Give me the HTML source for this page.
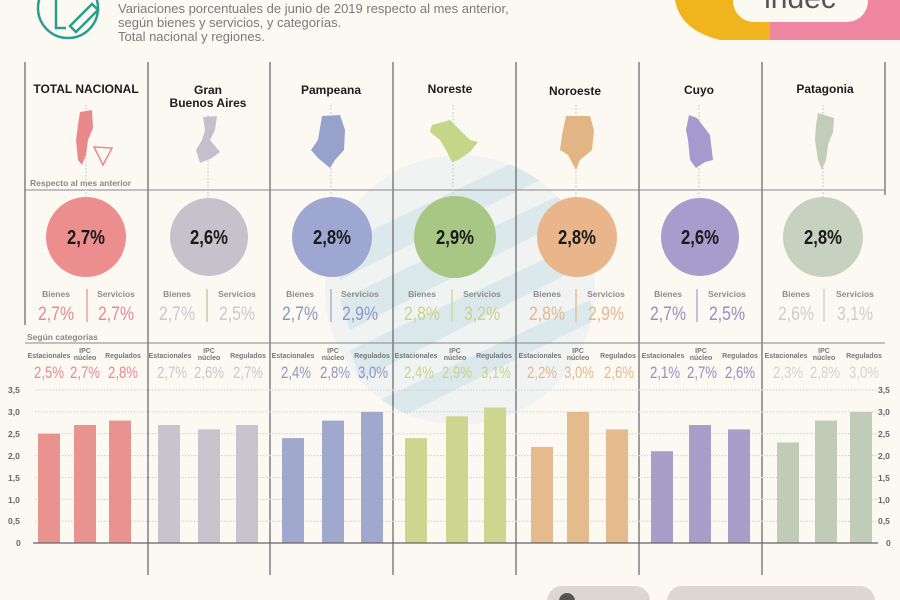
<!DOCTYPE html>
<html><head><meta charset="utf-8"><style>
html,body{margin:0;padding:0;background:#fcf9f3;}
svg{display:block;font-family:"Liberation Sans",sans-serif;}
.t{font-weight:bold;font-size:12px;fill:#1c1c1c;text-anchor:middle}
.bl{font-weight:bold;font-size:8.5px;fill:#8c8c8c;text-anchor:middle}
.cl{font-weight:bold;font-size:7px;fill:#777;text-anchor:middle}
.cv{font-weight:bold;font-size:20px;fill:#1a1a1a;text-anchor:middle}
.pv{font-size:19px;text-anchor:middle}
.kv{font-size:17px;text-anchor:middle}
.ax{font-size:8.5px;fill:#666;font-weight:bold}
</style></head><body>
<svg width="900" height="600" viewBox="0 0 900 600" xmlns="http://www.w3.org/2000/svg">
<rect width="900" height="600" fill="#fcf9f3"/>
<!-- watermark -->
<defs><clipPath id="wc"><circle cx="460" cy="290" r="135"/></clipPath></defs>
<g clip-path="url(#wc)" opacity="0.55">
<circle cx="460" cy="290" r="135" fill="#e6eff0"/>
<g fill="#bfdbe6">
<polygon points="330,250 540,150 560,170 340,280"/>
<polygon points="340,300 560,195 575,215 350,330"/>
<polygon points="350,350 575,245 585,265 360,380"/>
<polygon points="380,400 590,300 595,320 395,420"/>
</g></g>
<!-- header -->
<circle cx="68" cy="8" r="30" fill="none" stroke="#2a9d8f" stroke-width="2.5"/>
<path d="M56,0 L56,28 L66,28" fill="none" stroke="#2a9d8f" stroke-width="2.5"/>
<path d="M70,26 L92,4 L98,10 L76,32 Z" fill="none" stroke="#2a9d8f" stroke-width="2.5"/>
<g font-size="13" fill="#7a7a7a">
<text x="118" y="13">Variaciones porcentuales de junio de 2019 respecto al mes anterior,</text>
<text x="118" y="27">según bienes y servicios, y categorías.</text>
<text x="118" y="41">Total nacional y regiones.</text></g>
<path d="M675,0 L900,0 L900,40 L720,40 Q680,30 675,0 Z" fill="#f0b41e"/>
<path d="M770,0 L900,0 L900,40 L770,40 Z" fill="#ef86a0"/>
<rect x="733" y="-20" width="135" height="42" rx="21" fill="#fcf9f3"/>
<text x="800" y="8" font-size="30" fill="#555" text-anchor="middle">indec</text>
<!-- grid lines -->
<g stroke="#444" stroke-width="1">
<line x1="25" y1="62" x2="25" y2="325"/>
<line x1="148" y1="62" x2="148" y2="575"/><line x1="270" y1="62" x2="270" y2="575"/>
<line x1="393" y1="62" x2="393" y2="575"/><line x1="516" y1="62" x2="516" y2="575"/>
<line x1="639" y1="62" x2="639" y2="575"/><line x1="762" y1="62" x2="762" y2="575"/>
<line x1="885" y1="62" x2="885" y2="195"/>
</g>
<line x1="25" y1="190" x2="885" y2="190" stroke="#888"/>
<line x1="25" y1="343" x2="885" y2="343" stroke="#888"/>
<text x="30" y="186" font-size="8.5" font-weight="bold" fill="#888">Respecto al mes anterior</text>
<text x="27" y="340" font-size="8.5" font-weight="bold" fill="#888">Según categorías</text>
<!-- titles -->
<text class="t" x="86" y="93">TOTAL NACIONAL</text>
<text class="t" x="208" y="94">Gran</text><text class="t" x="208" y="107">Buenos Aires</text>
<text class="t" x="331" y="94">Pampeana</text>
<text class="t" x="450" y="93">Noreste</text>
<text class="t" x="575" y="95">Noroeste</text>
<text class="t" x="699" y="94">Cuyo</text>
<text class="t" x="825" y="93">Patagonia</text>
<!-- dotted connectors -->
<g stroke="#bbb" stroke-dasharray="1.5,2">
<line x1="86" y1="105" x2="86" y2="197"/><line x1="208" y1="115" x2="208" y2="197"/>
<line x1="331" y1="105" x2="331" y2="197"/><line x1="453" y1="105" x2="453" y2="197"/>
<line x1="576" y1="105" x2="576" y2="197"/><line x1="699" y1="105" x2="699" y2="197"/>
<line x1="823" y1="105" x2="823" y2="197"/></g>
<!-- maps -->
<path d="M80,112 L92,110 L93,128 L88,140 L86,155 L82,165 L78,160 L76,140 L78,125 Z" fill="#e8898b"/>
<path d="M94,147 L112,148 L103,165 Z" fill="none" stroke="#e8898b" stroke-width="1.5"/>
<path d="M203,117 L217,116 L215,130 L210,140 L220,152 L212,158 L200,163 L196,150 L202,140 L205,130 Z" fill="#c3bfcb"/>
<path d="M322,116 L340,115 L345,130 L344,150 L335,160 L330,168 L318,158 L311,150 L318,140 L320,128 Z" fill="#97a2cc"/>
<path d="M432,125 L450,120 L462,132 L470,140 L478,142 L470,152 L458,160 L452,162 L446,150 L440,140 L430,132 Z" fill="#c6d688"/>
<path d="M566,116 L590,116 L594,130 L592,150 L580,160 L576,170 L568,155 L560,150 L562,135 Z" fill="#e3b584"/>
<path d="M689,115 L697,118 L710,135 L713,160 L705,162 L696,168 L690,160 L688,140 L686,130 Z" fill="#a699cd"/>
<path d="M818,113 L834,118 L833,132 L828,145 L826,160 L822,170 L818,160 L815,140 L816,125 Z" fill="#c1cdb9"/>
<!-- circles -->
<circle cx="86" cy="237" r="40" fill="#ec8e8e"/>
<circle cx="209" cy="237" r="39" fill="#c7c1cb"/>
<circle cx="332" cy="237" r="40" fill="#9ea7d1"/>
<circle cx="455" cy="237" r="41" fill="#a9c784"/>
<circle cx="577" cy="237" r="40" fill="#e8b68a"/>
<circle cx="700" cy="237" r="39" fill="#a79ccc"/>
<circle cx="823" cy="237" r="40" fill="#c6d2bf"/>
<g class="cv">
<text class="cv" x="86" y="244" textLength="38" lengthAdjust="spacingAndGlyphs">2,7%</text>
<text class="cv" x="209" y="244" textLength="38" lengthAdjust="spacingAndGlyphs">2,6%</text>
<text class="cv" x="332" y="244" textLength="38" lengthAdjust="spacingAndGlyphs">2,8%</text>
<text class="cv" x="455" y="244" textLength="38" lengthAdjust="spacingAndGlyphs">2,9%</text>
<text class="cv" x="577" y="244" textLength="38" lengthAdjust="spacingAndGlyphs">2,8%</text>
<text class="cv" x="700" y="244" textLength="38" lengthAdjust="spacingAndGlyphs">2,6%</text>
<text class="cv" x="823" y="244" textLength="38" lengthAdjust="spacingAndGlyphs">2,8%</text></g>
<!-- bienes/servicios -->
<g class="bl">
<text class="bl" x="56" y="297">Bienes</text><text class="bl" x="116" y="297">Servicios</text>
<text class="bl" x="177" y="297">Bienes</text><text class="bl" x="237" y="297">Servicios</text>
<text class="bl" x="300" y="297">Bienes</text><text class="bl" x="360" y="297">Servicios</text>
<text class="bl" x="422" y="297">Bienes</text><text class="bl" x="482" y="297">Servicios</text>
<text class="bl" x="547" y="297">Bienes</text><text class="bl" x="606" y="297">Servicios</text>
<text class="bl" x="668" y="297">Bienes</text><text class="bl" x="727" y="297">Servicios</text>
<text class="bl" x="796" y="297">Bienes</text><text class="bl" x="855" y="297">Servicios</text></g>
<g stroke-width="1.2">
<line x1="87" y1="289" x2="87" y2="322" stroke="#e8898b"/>
<line x1="207" y1="289" x2="207" y2="322" stroke="#c9b98c"/>
<line x1="331" y1="289" x2="331" y2="322" stroke="#97a2cc"/>
<line x1="452" y1="289" x2="452" y2="322" stroke="#c6d688"/>
<line x1="576" y1="289" x2="576" y2="322" stroke="#e3b584"/>
<line x1="697" y1="289" x2="697" y2="322" stroke="#a699cd"/>
<line x1="824" y1="289" x2="824" y2="322" stroke="#c1cdb9"/></g>
<g>
<text class="pv" x="56" y="320" fill="#e48a94" textLength="36" lengthAdjust="spacingAndGlyphs">2,7%</text>
<text class="pv" x="116" y="320" fill="#e48a94" textLength="36" lengthAdjust="spacingAndGlyphs">2,7%</text>
<text class="pv" x="177" y="320" fill="#cbc6cf" textLength="36" lengthAdjust="spacingAndGlyphs">2,7%</text>
<text class="pv" x="237" y="320" fill="#cbc6cf" textLength="36" lengthAdjust="spacingAndGlyphs">2,5%</text>
<text class="pv" x="300" y="320" fill="#8d96c3" textLength="36" lengthAdjust="spacingAndGlyphs">2,7%</text>
<text class="pv" x="360" y="320" fill="#8d96c3" textLength="36" lengthAdjust="spacingAndGlyphs">2,9%</text>
<text class="pv" x="422" y="320" fill="#c9d38a" textLength="36" lengthAdjust="spacingAndGlyphs">2,8%</text>
<text class="pv" x="482" y="320" fill="#c9d38a" textLength="36" lengthAdjust="spacingAndGlyphs">3,2%</text>
<text class="pv" x="547" y="320" fill="#e3b88f" textLength="36" lengthAdjust="spacingAndGlyphs">2,8%</text>
<text class="pv" x="606" y="320" fill="#e3b88f" textLength="36" lengthAdjust="spacingAndGlyphs">2,9%</text>
<text class="pv" x="668" y="320" fill="#978cc2" textLength="36" lengthAdjust="spacingAndGlyphs">2,7%</text>
<text class="pv" x="727" y="320" fill="#978cc2" textLength="36" lengthAdjust="spacingAndGlyphs">2,5%</text>
<text class="pv" x="796" y="320" fill="#c9d0c4" textLength="36" lengthAdjust="spacingAndGlyphs">2,6%</text>
<text class="pv" x="855" y="320" fill="#c9d0c4" textLength="36" lengthAdjust="spacingAndGlyphs">3,1%</text></g>
<!-- category labels -->
<g>
<text class="cl" x="49" y="358">Estacionales</text><text class="cl" x="85" y="353">IPC</text><text class="cl" x="85" y="360">núcleo</text><text class="cl" x="123" y="358">Regulados</text>
<text class="cl" x="170" y="358">Estacionales</text><text class="cl" x="209" y="353">IPC</text><text class="cl" x="209" y="360">núcleo</text><text class="cl" x="248" y="358">Regulados</text>
<text class="cl" x="293" y="358">Estacionales</text><text class="cl" x="333" y="353">IPC</text><text class="cl" x="333" y="360">núcleo</text><text class="cl" x="372" y="358">Regulados</text>
<text class="cl" x="416" y="358">Estacionales</text><text class="cl" x="455" y="353">IPC</text><text class="cl" x="455" y="360">núcleo</text><text class="cl" x="494" y="358">Regulados</text>
<text class="cl" x="540" y="358">Estacionales</text><text class="cl" x="578" y="353">IPC</text><text class="cl" x="578" y="360">núcleo</text><text class="cl" x="618" y="358">Regulados</text>
<text class="cl" x="663" y="358">Estacionales</text><text class="cl" x="701" y="353">IPC</text><text class="cl" x="701" y="360">núcleo</text><text class="cl" x="740" y="358">Regulados</text>
<text class="cl" x="786" y="358">Estacionales</text><text class="cl" x="824" y="353">IPC</text><text class="cl" x="824" y="360">núcleo</text><text class="cl" x="864" y="358">Regulados</text></g>
<g>
<text class="kv" x="49" y="378" fill="#e48a94" textLength="30" lengthAdjust="spacingAndGlyphs">2,5%</text>
<text class="kv" x="85" y="378" fill="#e48a94" textLength="30" lengthAdjust="spacingAndGlyphs">2,7%</text>
<text class="kv" x="123" y="378" fill="#e48a94" textLength="30" lengthAdjust="spacingAndGlyphs">2,8%</text>
<text class="kv" x="172" y="378" fill="#cbc6cf" textLength="30" lengthAdjust="spacingAndGlyphs">2,7%</text>
<text class="kv" x="209" y="378" fill="#cbc6cf" textLength="30" lengthAdjust="spacingAndGlyphs">2,6%</text>
<text class="kv" x="248" y="378" fill="#cbc6cf" textLength="30" lengthAdjust="spacingAndGlyphs">2,7%</text>
<text class="kv" x="296" y="378" fill="#8d96c3" textLength="30" lengthAdjust="spacingAndGlyphs">2,4%</text>
<text class="kv" x="335" y="378" fill="#8d96c3" textLength="30" lengthAdjust="spacingAndGlyphs">2,8%</text>
<text class="kv" x="373" y="378" fill="#8d96c3" textLength="30" lengthAdjust="spacingAndGlyphs">3,0%</text>
<text class="kv" x="419" y="378" fill="#c9d38a" textLength="30" lengthAdjust="spacingAndGlyphs">2,4%</text>
<text class="kv" x="457" y="378" fill="#c9d38a" textLength="30" lengthAdjust="spacingAndGlyphs">2,9%</text>
<text class="kv" x="496" y="378" fill="#c9d38a" textLength="30" lengthAdjust="spacingAndGlyphs">3,1%</text>
<text class="kv" x="542" y="378" fill="#e3b88f" textLength="30" lengthAdjust="spacingAndGlyphs">2,2%</text>
<text class="kv" x="579" y="378" fill="#e3b88f" textLength="30" lengthAdjust="spacingAndGlyphs">3,0%</text>
<text class="kv" x="619" y="378" fill="#e3b88f" textLength="30" lengthAdjust="spacingAndGlyphs">2,6%</text>
<text class="kv" x="665" y="378" fill="#978cc2" textLength="30" lengthAdjust="spacingAndGlyphs">2,1%</text>
<text class="kv" x="702" y="378" fill="#978cc2" textLength="30" lengthAdjust="spacingAndGlyphs">2,7%</text>
<text class="kv" x="740" y="378" fill="#978cc2" textLength="30" lengthAdjust="spacingAndGlyphs">2,6%</text>
<text class="kv" x="788" y="378" fill="#d2d5cf" textLength="30" lengthAdjust="spacingAndGlyphs">2,3%</text>
<text class="kv" x="825" y="378" fill="#d2d5cf" textLength="30" lengthAdjust="spacingAndGlyphs">2,8%</text>
<text class="kv" x="864" y="378" fill="#d2d5cf" textLength="30" lengthAdjust="spacingAndGlyphs">3,0%</text></g>
<!-- chart grid -->
<g stroke="#cfcfcf" stroke-dasharray="1.5,1.5">
<line x1="35" y1="390" x2="878" y2="390"/><line x1="35" y1="411.9" x2="878" y2="411.9"/>
<line x1="35" y1="433.7" x2="878" y2="433.7"/><line x1="35" y1="455.6" x2="878" y2="455.6"/>
<line x1="35" y1="477.5" x2="878" y2="477.5"/><line x1="35" y1="499.4" x2="878" y2="499.4"/>
<line x1="35" y1="521.2" x2="878" y2="521.2"/></g>
<g class="ax">
<text class="ax" x="8" y="393">3,5</text><text class="ax" x="8" y="415">3,0</text><text class="ax" x="8" y="437">2,5</text>
<text class="ax" x="8" y="459">2,0</text><text class="ax" x="8" y="481">1,5</text><text class="ax" x="8" y="503">1,0</text>
<text class="ax" x="8" y="524">0,5</text><text class="ax" x="16" y="546">0</text>
<text class="ax" x="878" y="393">3,5</text><text class="ax" x="878" y="415">3,0</text><text class="ax" x="878" y="437">2,5</text>
<text class="ax" x="878" y="459">2,0</text><text class="ax" x="878" y="481">1,5</text><text class="ax" x="878" y="503">1,0</text>
<text class="ax" x="878" y="524">0,5</text><text class="ax" x="886" y="546">0</text></g>
<!-- bars -->
<g fill="#e99391"><rect x="38" y="433.7" width="22" height="109.3"/><rect x="74" y="425" width="22" height="118"/><rect x="109" y="420.6" width="22" height="122.4"/></g>
<g fill="#c8c3cd"><rect x="158" y="425" width="22" height="118"/><rect x="198" y="429.4" width="22" height="113.6"/><rect x="236" y="425" width="22" height="118"/></g>
<g fill="#a1a8cd"><rect x="282" y="438.1" width="22" height="104.9"/><rect x="322" y="420.6" width="22" height="122.4"/><rect x="361" y="411.9" width="22" height="131.1"/></g>
<g fill="#ccd68e"><rect x="405" y="438.1" width="22" height="104.9"/><rect x="446" y="416.3" width="22" height="126.7"/><rect x="484" y="407.5" width="22" height="135.5"/></g>
<g fill="#e5bb8e"><rect x="531" y="446.9" width="22" height="96.1"/><rect x="567" y="411.9" width="22" height="131.1"/><rect x="606" y="429.4" width="22" height="113.6"/></g>
<g fill="#a99ec9"><rect x="651" y="451.2" width="22" height="91.8"/><rect x="689" y="425" width="22" height="118"/><rect x="728" y="429.4" width="22" height="113.6"/></g>
<g fill="#c1ccb8"><rect x="777" y="442.5" width="22" height="100.5"/><rect x="815" y="420.6" width="22" height="122.4"/><rect x="850" y="411.9" width="22" height="131.1"/></g>
<line x1="33" y1="543" x2="878" y2="543" stroke="#666" stroke-width="1.2"/>
<!-- footer pills -->
<rect x="547" y="586" width="103" height="30" rx="15" fill="#dcd7d2"/>
<circle cx="567" cy="601" r="8" fill="#555"/>
<rect x="667" y="586" width="208" height="30" rx="15" fill="#dcd7d2"/>
</svg>
</body></html>
